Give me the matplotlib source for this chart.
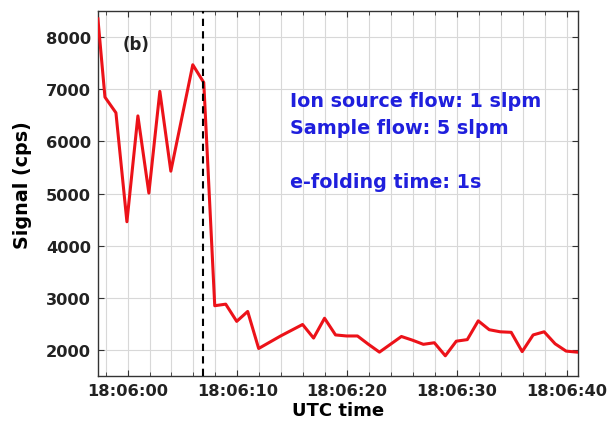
import matplotlib
matplotlib.use("Agg")
import matplotlib.pyplot as plt
import matplotlib.dates as mdates
import pandas as pd

base_time = "2000-01-01 18:06:00"
# seconds relative to 18:06:00
t_sec = [-2.70, -2.06, -1.06, -0.06, 0.94, 1.94, 2.94, 3.94, 4.94, 5.94, 6.94,
         7.94, 8.94, 9.94, 10.94, 11.94, 12.94, 13.94, 14.94, 15.94, 16.94,
         17.94, 18.94, 19.94, 20.94, 21.94, 22.94, 23.94, 24.94, 25.94, 26.94,
         27.94, 28.94, 29.94, 30.94, 31.94, 32.94, 33.94, 34.94, 35.94, 36.94,
         37.94, 38.94, 39.94, 40.94]
signal = [8350, 6850, 6550, 4460, 6490, 5010, 6960, 5430, 6450, 7470, 7130,
          2850, 2880, 2550, 2740, 2030, 2150, 2270, 2380, 2490, 2230,
          2610, 2290, 2270, 2270, 2110, 1960, 2110, 2260, 2190, 2110,
          2140, 1890, 2170, 2200, 2560, 2390, 2350, 2340, 1970, 2290,
          2350, 2120, 1980, 1960]
marker_sec = 6.9
xlim_sec = [-2.7, 41.0]
ylim = [1500, 8500]
yticks = [2000, 3000, 4000, 5000, 6000, 7000, 8000]
panel_label = "(b)"
info_lines = ["Ion source flow: 1 slpm", "Sample flow: 5 slpm", "e-folding time: 1s"]
info_y = [0.756, 0.682, 0.532]

t0 = pd.Timestamp(base_time)
times = t0 + pd.to_timedelta(t_sec, unit="s")

plt.rcParams["font.family"] = ["DejaVu Sans"]
plt.rcParams["font.weight"] = "bold"

fig = plt.figure(figsize=(6.12, 4.31), dpi=100)
ax = fig.add_axes([0.160, 0.125, 0.784, 0.847])

ax.plot(times, signal, color="#ec1219", lw=2.2, zorder=3)
ax.axvline(t0 + pd.Timedelta(seconds=marker_sec), color="black", lw=1.5,
           ls=(0, (3.5, 2.5)), zorder=4)

ax.set_xlim(t0 + pd.Timedelta(seconds=xlim_sec[0]), t0 + pd.Timedelta(seconds=xlim_sec[1]))
ax.set_ylim(*ylim)
ax.set_yticks(yticks)
ax.xaxis.set_major_locator(mdates.SecondLocator(bysecond=range(0, 60, 10)))
ax.xaxis.set_minor_locator(mdates.SecondLocator(bysecond=range(0, 60, 2)))
ax.xaxis.set_major_formatter(mdates.DateFormatter("%H:%M:%S"))

ax.grid(True, which="both", axis="x", color="#d8d8d8", lw=0.8)
ax.grid(True, which="major", axis="y", color="#d8d8d8", lw=0.8)
ax.set_axisbelow(True)

ax.tick_params(which="both", direction="in", top=True, right=True,
               color="#333333", labelsize=11.7, pad=5)
ax.tick_params(which="major", length=4)
ax.tick_params(which="minor", length=3)
for lab in ax.get_xticklabels() + ax.get_yticklabels():
    lab.set_fontweight("bold")
    lab.set_color("#222222")
for s in ax.spines.values():
    s.set_color("#333333")
    s.set_linewidth(1.0)

ax.set_xlabel("UTC time", fontsize=13, fontweight="bold", labelpad=2)
ax.set_ylabel("Signal (cps)", fontsize=13.8, fontweight="bold")
ax.yaxis.set_label_coords(-0.138, 0.526)

ax.text(0.052, 0.91, panel_label, transform=ax.transAxes, fontsize=12,
        fontweight="bold", color="#222222", va="center")
for line, yy in zip(info_lines, info_y):
    ax.text(0.40, yy, line, transform=ax.transAxes, fontsize=13.8,
            fontweight="bold", color="#1f1fdd", va="center")

fig.savefig("out.png", dpi=100)
